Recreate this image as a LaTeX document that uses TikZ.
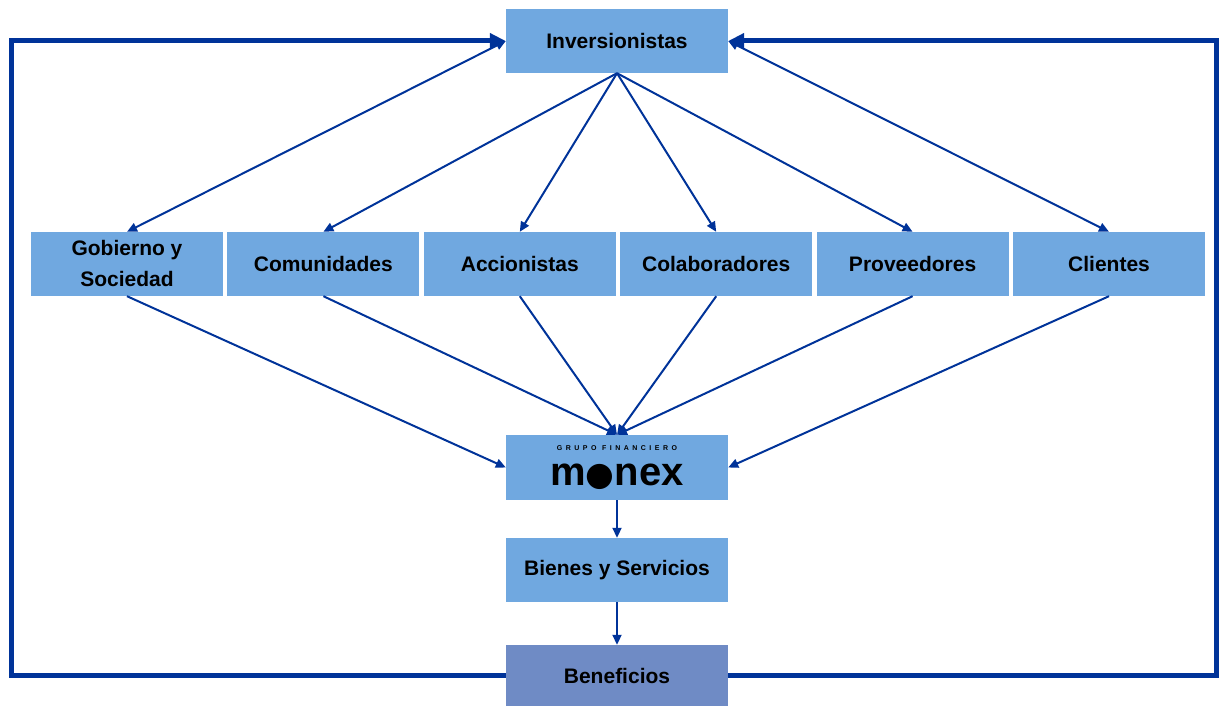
\documentclass[tikz,border=0pt]{standalone}
\usepackage{fontspec}
\setmainfont{Liberation Sans}
\newfontfamily\dotfont{DejaVu Sans}
\usepackage{xcolor}
\usepackage{tikz}
\usetikzlibrary{positioning, arrows.meta}

\definecolor{boxblue}{RGB}{112,168,224}
\definecolor{benblue}{RGB}{111,139,197}
\definecolor{linkblue}{RGB}{0,51,153}

\begin{document}
\begin{tikzpicture}[x=1pt, y=1pt,
    box/.style={fill=boxblue, minimum width=192pt, minimum height=64pt, inner sep=0pt, align=center, font=\fontsize{21}{31}\selectfont\bfseries},
    wide/.style={box, minimum width=222pt},
    link/.style={linkblue, line width=2pt, -{Triangle[length=10pt,width=9pt]}},
    bothlink/.style={link, {Triangle[length=10pt,width=9pt]}-{Triangle[length=10pt,width=9pt]}},
    loopline/.style={linkblue, line width=5pt, -{Triangle[length=16pt,width=15pt]}}]
    \useasboundingbox (0,0) rectangle (1220,706);

    % centre column
    \node[wide] (inv) at (617,665) {Inversionistas};
    \node[wide, minimum height=65pt] (monex) at (617,238.5) {{\fontsize{7}{8}\selectfont\addfontfeature{LetterSpace=50}GRUPO FINANCIERO}\\[4pt]{\fontsize{40}{30}\selectfont m\raisebox{0pt}{\dotfont\fontsize{33}{33}\selectfont ●}nex}};
    \node[wide] (bienes) at (617,136) {Bienes y Servicios};
    \node[wide, fill=benblue, minimum height=61pt] (benef) at (617,30.5) {Beneficios};

    % row of groups
    \node[box] (gob) at (127,442) {Gobierno y\\Sociedad};
    \node[box, right=4pt of gob] (com) {Comunidades};
    \node[box, right=4pt of com] (acc) {Accionistas};
    \node[box, right=4pt of acc] (col) {Colaboradores};
    \node[box, right=4pt of col] (pro) {Proveedores};
    \node[box, right=4pt of pro] (cli) {Clientes};

    % arrows through the row
    \foreach \n in {com, acc, col, pro} {
        \draw[link] (inv.south) -- (\n.north);
        \draw[link] (\n.south) -- (monex.north);
    }
    \draw[bothlink] (inv.west) -- (gob.north);
    \draw[bothlink] (inv.east) -- (cli.north);
    \draw[link] (gob.south) -- (monex.west);
    \draw[link] (cli.south) -- (monex.east);
    \draw[link] (monex) -- (bienes);
    \draw[link] (bienes) -- (benef);

    % outer loop back to the top
    \coordinate (lcorner) at (11,665);
    \coordinate (rcorner) at (1216,665);
    \draw[loopline] (benef.west) -| (lcorner) -- (inv.west);
    \draw[loopline] (benef.east) -| (rcorner) -- (inv.east);
\end{tikzpicture}
\end{document}
